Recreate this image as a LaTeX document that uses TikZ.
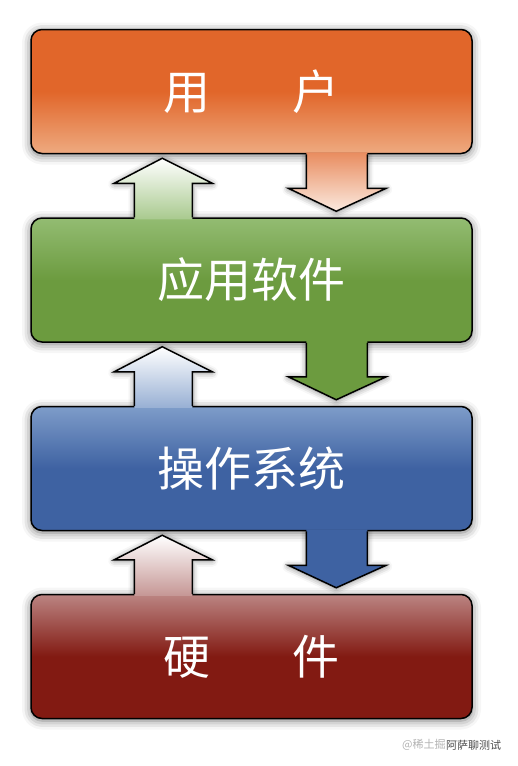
\documentclass[tikz,border=0pt]{standalone}
\usepackage{fontspec}
\newfontfamily\cjk{Noto Sans CJK SC}
\usepackage{tikz}
\usetikzlibrary{calc, shadows.blur, backgrounds}

% layer colours
\definecolor{usrTop}{HTML}{E1662A}
\definecolor{usrBot}{HTML}{EEAA80}
\definecolor{appTop}{HTML}{93BC72}
\definecolor{appMid}{HTML}{6C9B3F}
\definecolor{osTop}{HTML}{7E9CC9}
\definecolor{osMid}{HTML}{3E62A2}
\definecolor{hwTop}{HTML}{BB8482}
\definecolor{hwMid}{HTML}{821A12}

\tikzset{
  layerbox/.style={draw=black, line width=1.5pt, rounded corners=11pt,
    minimum width=441pt, minimum height=124pt, inner sep=0pt,
    text=white, font=\cjk\fontsize{47}{50}\selectfont,
    blur shadow={shadow xshift=0pt, shadow yshift=-2pt,
      shadow blur radius=9pt, shadow opacity=55}},
  arrline/.style={draw=black, line width=1.5pt, line join=miter},
  arrshadow/.style={blur shadow={shadow xshift=0pt, shadow yshift=-1pt,
      shadow blur radius=6pt, shadow opacity=50}},
  uparrA/.style={bottom color=appTop!80!white, top color=white},
  uparrB/.style={bottom color=osTop!80!white, top color=white},
  uparrC/.style={bottom color=hwTop!85!white, top color=white},
  dnarrA/.style={top color=usrTop!75!white, bottom color=usrBot!25!white},
  dnarrB/.style={fill=appMid},
  dnarrC/.style={fill=osMid},
}

\begin{document}
\begin{tikzpicture}[x=1pt, y=-1pt]
  \useasboundingbox (0,0) rectangle (518,766);

  % the four layers
  \node[layerbox, top color=usrTop, bottom color=usrBot, middle color=usrTop]
    (usr) at (251.5,91.5) {用\hspace{83pt}户};
  \node[layerbox, top color=appTop, bottom color=appMid, middle color=appMid]
    (app) at (251.5,280) {应用软件};
  \node[layerbox, top color=osTop, bottom color=osMid, middle color=osMid]
    (os) at (251.5,468.5) {操作系统};
  \node[layerbox, top color=hwTop, bottom color=hwMid, middle color=hwMid]
    (hw) at (251.5,656.5) {硬\hspace{83pt}件};

  % arrows between neighbouring layers
  \foreach \hi/\lo/\ust/\dst in {usr/app/uparrA/dnarrA, app/os/uparrB/dnarrB, os/hw/uparrC/dnarrC} {
    \coordinate (b) at (\lo.north west);
    \coordinate (t) at (\hi.south west);
    % shadows behind the boxes
    \begin{scope}[on background layer]
      \path[arrshadow] ($(b)+(104,2)$) -- ($(b)+(104,-34)$) -- ($(b)+(84,-34)$)
        -- ($(t)+(132,4)$) -- ($(b)+(182,-34)$) -- ($(b)+(162,-34)$) -- ($(b)+(162,2)$) -- cycle;
      \path[arrshadow] ($(t)+(276,-2)$) -- ($(t)+(276,34)$) -- ($(t)+(258,34)$)
        -- ($(b)+(306,-6)$) -- ($(t)+(356,34)$) -- ($(t)+(337,34)$) -- ($(t)+(337,-2)$) -- cycle;
    \end{scope}
    % up arrow (left)
    \path[\ust] ($(b)+(104,2)$) -- ($(b)+(104,-34)$) -- ($(b)+(84,-34)$)
      -- ($(t)+(132,4)$) -- ($(b)+(182,-34)$) -- ($(b)+(162,-34)$) -- ($(b)+(162,2)$) -- cycle;
    \draw[arrline] ($(b)+(104,0)$) -- ($(b)+(104,-34)$) -- ($(b)+(84,-34)$)
      -- ($(t)+(132,4)$) -- ($(b)+(182,-34)$) -- ($(b)+(162,-34)$) -- ($(b)+(162,0)$);
    % down arrow (right)
    \path[\dst] ($(t)+(276,-2)$) -- ($(t)+(276,34)$) -- ($(t)+(258,34)$)
      -- ($(b)+(306,-6)$) -- ($(t)+(356,34)$) -- ($(t)+(337,34)$) -- ($(t)+(337,-2)$) -- cycle;
    \draw[arrline] ($(t)+(276,0)$) -- ($(t)+(276,34)$) -- ($(t)+(258,34)$)
      -- ($(b)+(306,-6)$) -- ($(t)+(356,34)$) -- ($(t)+(337,34)$) -- ($(t)+(337,0)$);
  }

  % watermark
  \node[anchor=west, inner sep=0pt, text=black!30, font=\cjk\fontsize{11}{12}\selectfont]
    (wm1) at (402,745) {@稀土掘};
  \node[anchor=west, inner sep=0pt, text=black!70, font=\cjk\fontsize{11}{12}\selectfont]
    (wm2) at (wm1.east) {阿萨聊测试};
\end{tikzpicture}
\end{document}
